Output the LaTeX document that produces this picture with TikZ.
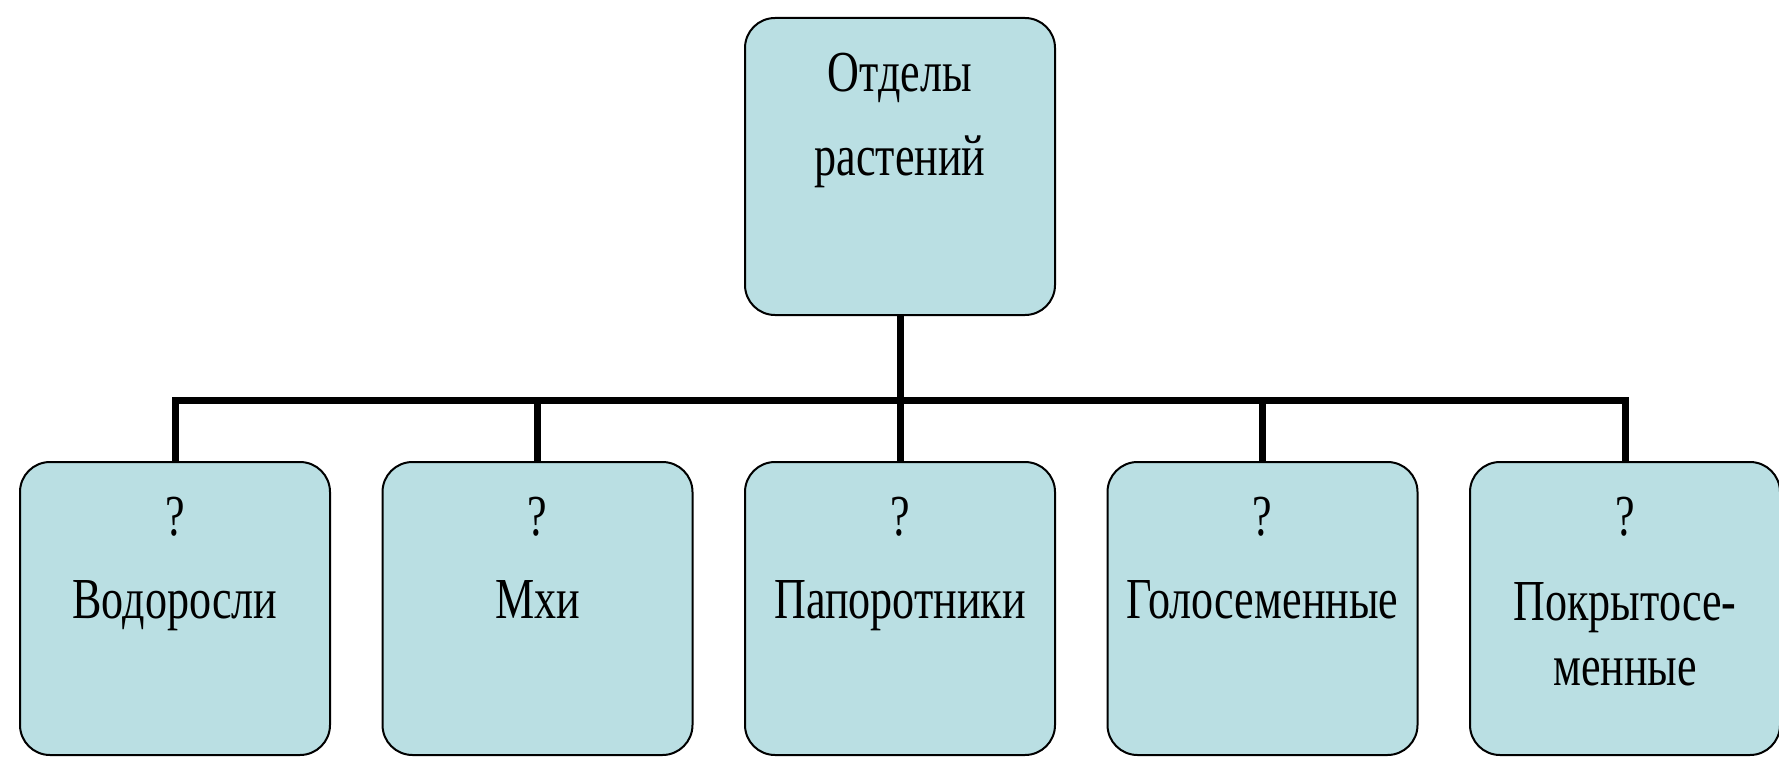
\documentclass[tikz,border=0pt]{standalone}
\usepackage{fontspec}
\setmainfont[FakeStretch=0.76]{Liberation Serif}
\definecolor{boxfill}{RGB}{186,223,227}
\tikzset{
  box/.style={draw=black, line width=2pt, fill=boxfill, rounded corners=30pt,
    minimum width=310pt, inner sep=0pt, outer sep=0pt},
  topbox/.style={box, minimum height=297pt},
  leafbox/.style={box, minimum height=293pt},
  lbl/.style={anchor=base, inner sep=0pt, font=\fontsize{58}{70}\selectfont},
  conn/.style={line width=7pt, line join=miter, line cap=butt}
}
\begin{document}
\begin{tikzpicture}[x=1pt,y=-1pt]
\useasboundingbox (0,0) rectangle (1779,757);
\fill[white] (0,0) rectangle (1779,757);
% top box
\node[topbox] (top) at (900,166.5) {};
\node[lbl] (t1) at (900,92) {Отделы};
\node[lbl] (t2) at (900,175) {растений};
% leaf boxes
\node[leafbox] (b1) at (175,608.5) {};
\node[leafbox] (b2) at (537.5,608.5) {};
\node[leafbox] (b3) at (900,608.5) {};
\node[leafbox] (b4) at (1262.5,608.5) {};
\node[leafbox] (b5) at (1625,608.5) {};
\node[lbl] (q1) at (175,535) {?};
\node[lbl] (q2) at (537.5,535) {?};
\node[lbl] (q3) at (900,535) {?};
\node[lbl] (q4) at (1262.5,535) {?};
\node[lbl] (q5) at (1625,535) {?};
\node[lbl] (n1) at (175,618) {Водоросли};
\node[lbl] (n2) at (537.5,618) {Мхи};
\node[lbl] (n3) at (900,618) {Папоротники};
\node[lbl] (n4) at (1262.5,618) {Голосеменные};
\node[lbl] (n5a) at (1625,620) {Покрытосе-};
\node[lbl] (n5b) at (1625,685) {менные};
% connectors
\coordinate (bus) at (900,400);
\draw[conn] (top.south) -- (bus);
\draw[conn] (b1.north) |- (bus) -| (b5.north);
\draw[conn] (b2.north) -- (b2.north |- bus);
\draw[conn] (b3.north) -- (b3.north |- bus);
\draw[conn] (b4.north) -- (b4.north |- bus);
\end{tikzpicture}
\end{document}
